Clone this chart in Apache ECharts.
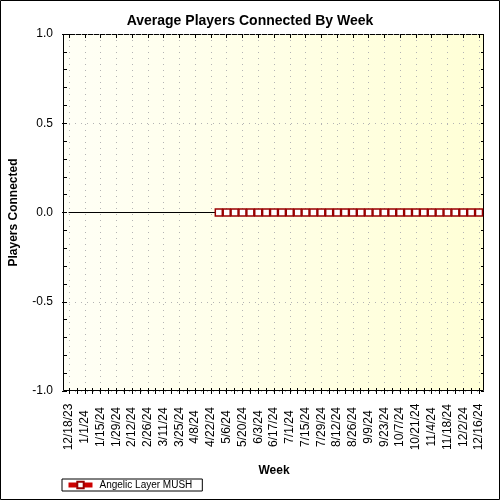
<!DOCTYPE html>
<html>
<head>
<meta charset="utf-8">
<script src="https://cdn.jsdelivr.net/npm/echarts@6/dist/echarts.min.js"></script>
<style>
html,body{margin:0;padding:0;background:#fff;}
#chart{width:500px;height:500px;}
</style>
</head>
<body>
<div id="chart"></div>
<script>
var weeks = ['12/18/23','12/25/23','1/1/24','1/8/24','1/15/24','1/22/24','1/29/24','2/5/24','2/12/24','2/19/24',
  '2/26/24','3/4/24','3/11/24','3/18/24','3/25/24','4/1/24','4/8/24','4/15/24','4/22/24','4/29/24',
  '5/6/24','5/13/24','5/20/24','5/27/24','6/3/24','6/10/24','6/17/24','6/24/24','7/1/24','7/8/24',
  '7/15/24','7/22/24','7/29/24','8/5/24','8/12/24','8/19/24','8/26/24','9/2/24','9/9/24','9/16/24',
  '9/23/24','9/30/24','10/7/24','10/14/24','10/21/24','10/28/24','11/4/24','11/11/24','11/18/24','11/25/24',
  '12/2/24','12/9/24','12/16/24'];
var players = [null,null,null,null,null,null,null,null,null,null,
  null,null,null,null,null,null,null,null,null,0,
  0,0,0,0,0,0,0,0,0,0,
  0,0,0,0,0,0,0,0,0,0,
  0,0,0,0,0,0,0,0,0,0,
  0,0,0];
var seriesName = 'Angelic Layer MUSH';
var yMin = -1, yMax = 1, yStep = 0.5;

var FONT = 'Liberation Sans, Arial, sans-serif';
var DOTS = { color: '#b4b4b4', type: [1, 5], width: 1 };
var chart = echarts.init(document.getElementById('chart'));
chart.setOption({
  animation: false,
  textStyle: { fontFamily: FONT },
  title: {
    text: 'Average Players Connected By Week',
    left: 'center', top: 9,
    textStyle: { fontFamily: FONT, fontSize: 14, fontWeight: 'bold', color: '#000' }
  },
  graphic: [
    { type: 'rect', z: -10, silent: true,
      shape: { x: 63.5, y: 34.5, width: 420, height: 356 },
      style: {
        fill: new echarts.graphic.LinearGradient(0, 0, 1, 0, [
          { offset: 0, color: '#fffff6' }, { offset: 1, color: '#ffffd6' }
        ]),
        stroke: '#000', lineWidth: 1
      }
    },
    { type: 'rect', z: 100, silent: true,
      shape: { x: 0.5, y: 0.5, width: 499, height: 499 },
      style: { fill: 'none', stroke: '#000', lineWidth: 1 }
    }
  ],
  grid: { left: 65, right: 21, top: 34, bottom: 109 },
  legend: {
    left: 62, top: 479,
    data: [seriesName],
    padding: [0, 10, 0, 4],
    itemWidth: 24, itemHeight: 8, itemGap: 6,
    lineStyle: { width: 5, color: '#cc0000' },
    borderColor: '#000', borderWidth: 1, borderRadius: 0,
    textStyle: { fontFamily: FONT, fontSize: 10, color: '#000', lineHeight: 12, padding: [0, 0, 0, 2] }
  },
  xAxis: [
    { type: 'category', data: weeks, position: 'bottom', boundaryGap: false,
      name: 'Week', nameLocation: 'middle', nameGap: 74,
      nameTextStyle: { fontFamily: FONT, fontSize: 12, fontWeight: 'bold', color: '#000' },
      axisLine: { show: false, onZero: false },
      axisTick: { show: true, interval: 0, length: 3, inside: false, lineStyle: { color: '#000' } },
      axisLabel: { interval: 1, rotate: 90, align: 'center', verticalAlign: 'middle', margin: 36,
        fontFamily: FONT, fontSize: 12, color: '#000' },
      splitLine: { show: true, interval: 1, lineStyle: DOTS }
    },
    { type: 'category', data: weeks, position: 'bottom', boundaryGap: false,
      axisLine: { show: false, onZero: false },
      axisTick: { show: true, interval: 0, length: 3, inside: true, lineStyle: { color: '#000' } },
      axisLabel: { show: false }, splitLine: { show: false }
    },
    { type: 'category', data: weeks, position: 'bottom', boundaryGap: false,
      axisLine: { show: true, onZero: true, lineStyle: { color: '#000', width: 1 } },
      axisTick: { show: false }, axisLabel: { show: false }, splitLine: { show: false }
    },
    { type: 'category', data: weeks, position: 'top', boundaryGap: false,
      axisLine: { show: false, onZero: false },
      axisTick: { show: true, interval: 1, length: 4, inside: true, lineStyle: { color: '#000' } },
      axisLabel: { show: false }, splitLine: { show: false }
    }
  ],
  yAxis: [
    { type: 'value', min: yMin, max: yMax, interval: yStep, position: 'left', offset: 2,
      name: 'Players Connected', nameLocation: 'middle', nameGap: 47,
      nameTextStyle: { fontFamily: FONT, fontSize: 12, fontWeight: 'bold', color: '#000' },
      axisLine: { show: false },
      axisTick: { show: true, length: 5, lineStyle: { color: '#000' } },
      minorTick: { show: true, splitNumber: 5, length: 3, lineStyle: { color: '#000' } },
      axisLabel: { margin: 14, fontFamily: FONT, fontSize: 12, color: '#000',
        formatter: function (v) { return v.toFixed(1); } },
      splitLine: { show: true, lineStyle: DOTS },
      minorSplitLine: { show: false }
    },
    { type: 'value', min: yMin, max: yMax, interval: yStep, position: 'right', offset: 5,
      axisLine: { show: false },
      axisTick: { show: true, inside: true, length: 3, lineStyle: { color: '#000' } },
      minorTick: { show: true, splitNumber: 5, length: 3, lineStyle: { color: '#000' } },
      axisLabel: { show: false }, splitLine: { show: false }
    }
  ],
  series: [{
    name: seriesName, type: 'line', xAxisIndex: 0, yAxisIndex: 0,
    data: players,
    symbol: 'rect', symbolSize: 7, showAllSymbol: true,
    lineStyle: { color: '#cc0000', width: 2 },
    itemStyle: { color: '#ffffff', borderColor: '#990000', borderWidth: 1.5 },
    z: 5
  }]
});
</script>
</body>
</html>
